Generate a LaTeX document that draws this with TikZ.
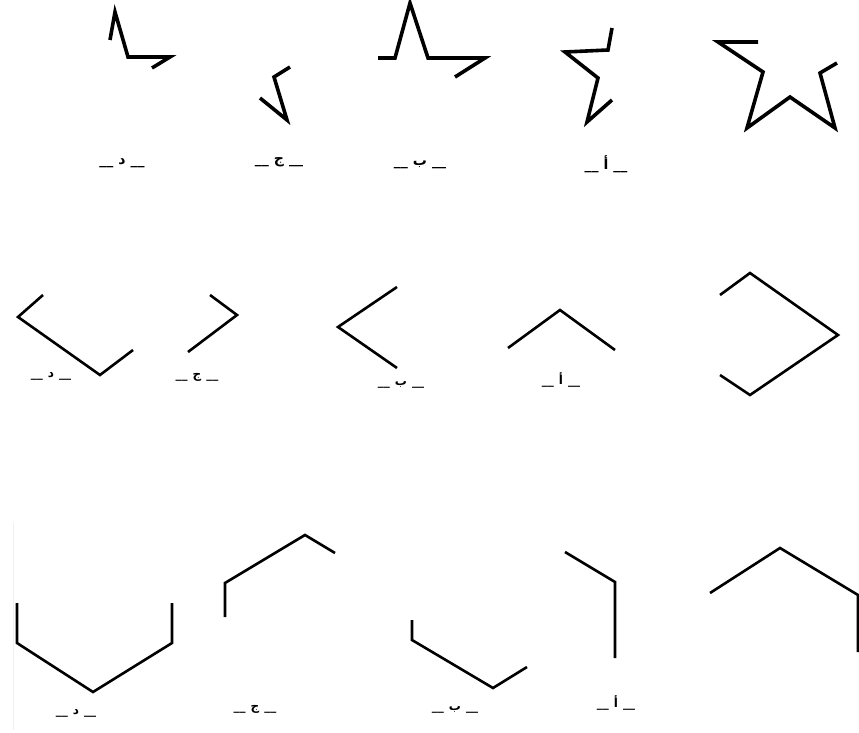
\documentclass[tikz,border=0pt]{standalone}
\usepackage{fontspec}
\usepackage{tikz}
\TeXXeTstate=1
\newfontfamily\arabicfont[Script=Arabic]{DejaVu Sans}
\tikzset{
  bigpiece/.style={draw=black, line width=3.6pt, line join=miter, line cap=butt},
  piece/.style={draw=black, line width=2.6pt, line join=miter, line cap=butt},
  choice/.style={font=\arabicfont\bfseries\fontsize{14}{15}\selectfont, inner sep=0pt, anchor=base},
  smallchoice/.style={choice, font=\arabicfont\bfseries\fontsize{12}{13}\selectfont}
}
\newcommand{\opt}[1]{\beginR\_\_\hspace{5pt}#1\hspace{5pt}\_\_\endR}

\begin{document}
\begin{tikzpicture}[x=1pt,y=-1pt]
  \useasboundingbox (0,0) rectangle (859,733);

  % stars
  \draw[bigpiece] (110,40) -- (115,12) -- (128,57) -- (170,57) -- (152,68);
  \draw[bigpiece] (290,67) -- (274,77) -- (287,120) -- (260,98);
  \draw[bigpiece] (378,58) -- (395,58) -- (410,3) -- (428,58) -- (485,58) -- (455,77);
  \draw[bigpiece] (612,28) -- (608,50) -- (565,52) -- (598,78) -- (587,122) -- (612,100);
  \draw[bigpiece] (758,42) -- (718,42) -- (763,72) -- (747,128) -- (790,97) -- (835,128) -- (820,73) -- (837,63);

  \node[choice] (starD) at (122,164.5) {\opt{د}};
  \node[choice] (starJ) at (279,163.5) {\opt{ج}};
  \node[choice] (starB) at (420,165.5) {\opt{ب}};
  \node[choice] (starA) at (606,169.5) {\opt{أ}};

  % squares
  \draw[piece] (43,295) -- (18,317) -- (100,375) -- (133,350);
  \draw[piece] (210,295) -- (237,315) -- (188,352);
  \draw[piece] (397,287) -- (338,327) -- (397,368);
  \draw[piece] (508,348) -- (560,310) -- (615,350);
  \draw[piece] (720,295) -- (750,273) -- (838,335) -- (750,395) -- (720,375);

  \node[smallchoice] (sqD) at (51,377) {\opt{د}};
  \node[smallchoice] (sqJ) at (197,378) {\opt{ج}};
  \node[smallchoice] (sqB) at (401,385) {\opt{ب}};
  \node[smallchoice] (sqA) at (561,384) {\opt{أ}};

  % hexagons
  \draw[gray!12, line width=1pt] (13,523) -- (13,730);
  \draw[piece] (17,603) -- (17,643) -- (93,692) -- (172,643) -- (172,603);
  \draw[piece] (225,617) -- (225,583) -- (305,535) -- (335,553);
  \draw[piece] (412,620) -- (412,640) -- (493,688) -- (527,667);
  \draw[piece] (565,552) -- (615,582) -- (615,658);
  \draw[piece] (710,593) -- (780,548) -- (858,595) -- (858,652);

  \node[smallchoice] (hexD) at (76,714) {\opt{د}};
  \node[smallchoice] (hexJ) at (255,710) {\opt{ج}};
  \node[smallchoice] (hexB) at (455,710) {\opt{ب}};
  \node[smallchoice] (hexA) at (616,707) {\opt{أ}};
\end{tikzpicture}
\end{document}
